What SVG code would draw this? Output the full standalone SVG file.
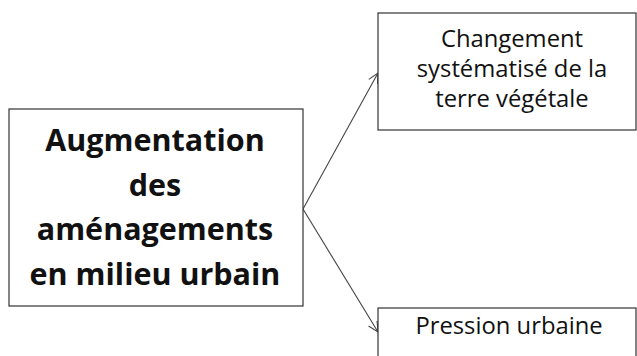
<svg xmlns="http://www.w3.org/2000/svg" width="637" height="356" viewBox="0 0 637 356">
<style>
.box{fill:#fff;stroke:#333;stroke-width:1.2}
.t{font-family:"Open Sans","Liberation Sans",sans-serif;font-size:23.8px;fill:#111;text-anchor:middle}
.b{font-family:"Open Sans","Liberation Sans",sans-serif;font-size:30.5px;font-weight:bold;fill:#111;text-anchor:middle}
.c{fill:none;stroke:#444;stroke-width:1.1}
</style>
<defs>
<marker id="ah" viewBox="0 0 12 12" refX="11" refY="6" markerWidth="12" markerHeight="12" markerUnits="userSpaceOnUse" orient="auto">
<path d="M1,1 L11,6 L1,11" fill="none" stroke="#444" stroke-width="1.1"/>
</marker>
</defs>
<rect width="637" height="356" fill="#fff"/>
<g id="connectors">
<line class="c" x1="303" y1="209" x2="378" y2="73" marker-end="url(#ah)"/>
<line class="c" x1="303" y1="209" x2="378" y2="332" marker-end="url(#ah)"/>
</g>
<g id="node-main">
<rect class="box" x="9" y="109" width="294" height="197"/>
<text class="b" x="155" y="151">Augmentation</text>
<text class="b" x="155" y="196">des</text>
<text class="b" x="155" y="240">aménagements</text>
<text class="b" x="155" y="285">en milieu urbain</text>
</g>
<g id="node-changement">
<rect class="box" x="378" y="13" width="258" height="117"/>
<text class="t" x="512" y="47">Changement</text>
<text class="t" x="512" y="77">systématisé de la</text>
<text class="t" x="512" y="107">terre végétale</text>
</g>
<g id="node-pression">
<rect class="box" x="378" y="308" width="258" height="60"/>
<text class="t" x="509" y="334">Pression urbaine</text>
</g>
</svg>
